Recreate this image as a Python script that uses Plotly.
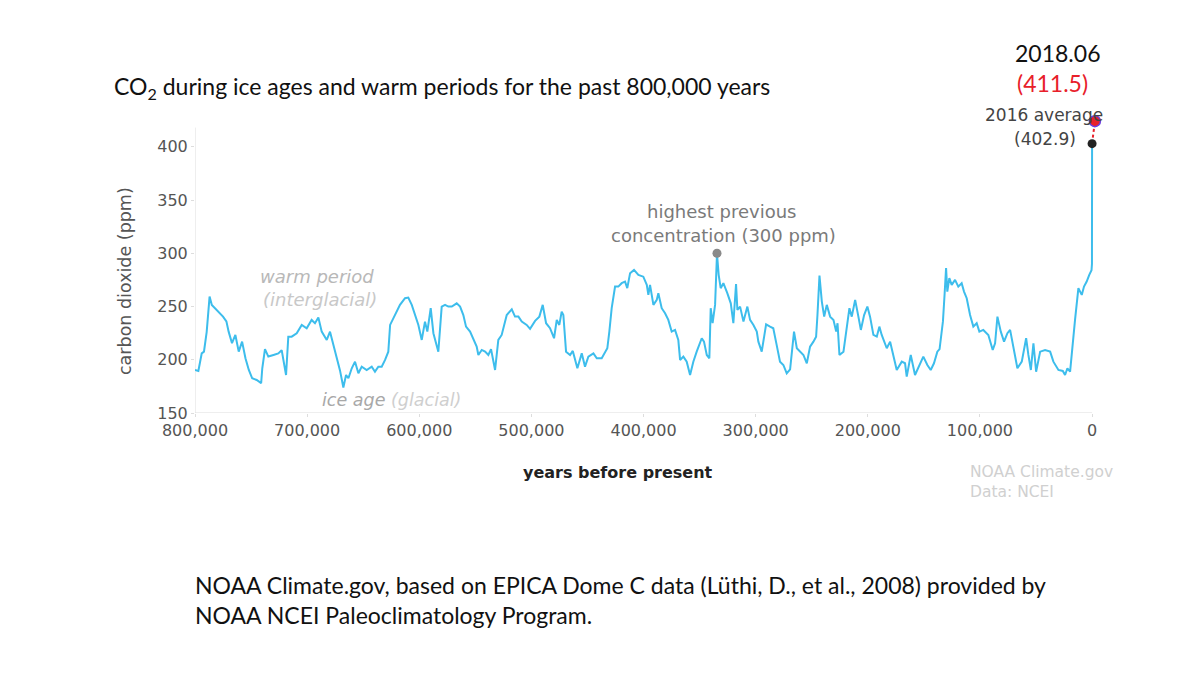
import plotly.graph_objects as go

# EPICA Dome C CO2 (thousands of years before present, ppm)
age_ka = [
    800, 797, 794, 792, 789.6, 787, 785, 782, 779, 775, 772, 770, 767, 764, 761, 758, 755, 752,
    749, 745, 741, 740, 737.6, 734.6, 730, 725.7, 722.7, 720.6, 718.8, 716.8, 713.8, 709.3,
    704.8, 700.4, 696, 693, 690, 687, 682.5, 679.6, 676.6, 673.6, 670.7, 667.7, 665.3, 663.2,
    660.2, 657.3, 654.3, 651.3, 646.9, 642.4, 639.5, 636.5, 633.5, 630.5, 627.6, 626, 621.6,
    617.2, 612.7, 609.8, 606.7, 603.8, 600.8, 597.8, 594.9, 592.8, 589.8, 587.4, 585.3, 583,
    580, 577, 574.1, 571, 566.6, 563.6, 560.7, 558.3, 554.7, 551.8, 548.8, 547.3, 544.3, 541.3,
    538.4, 536, 533.5, 532.4, 529.5, 526.5, 522, 517.5, 514.6, 511.6, 508.6, 504.2, 501.2,
    496.7, 492.9, 489.9, 486.9, 483.4, 479.8, 477.4, 475.1, 473, 471.5, 469.1, 465.5, 463.1,
    459, 455.1, 452.2, 449.2, 444.7, 441.7, 437.3, 434.3, 432.3, 430.5, 428.4, 425.4, 422.5,
    419.5, 416.5, 414.5, 412, 408.5, 404.6, 400.2, 397.1, 395.7, 394.2, 391.2, 388.2, 386.8,
    383.8, 380.8, 377.9, 374.9, 371.9, 369, 367.4, 364.5, 361.5, 358.5, 355.6, 352.6, 348.1,
    346.1, 343.6, 341.3, 340.1, 338.4, 336.2, 334.5, 333, 331.2, 328.8, 325.3, 322.2, 319.9,
    317.5, 316.3, 313.9, 310.9, 307.4, 305, 302, 299, 297.6, 294.6, 290.7, 287.2, 284.3, 281.3,
    278.3, 275.3, 272.3, 269.3, 265.8, 263.3, 260.4, 257.4, 254.4, 251.5, 248.5, 246.1, 244.9,
    243.1, 241, 238.9, 236.6, 233.6, 230.6, 228.2, 227, 225.3, 221.7, 218.7, 216.4, 214.3,
    211.3, 208.4, 206.2, 203.3, 200.4, 198, 195, 192, 189.7, 187.6, 183.1, 180.1, 177.2, 174.2,
    169.7, 166.8, 165.3, 161.7, 157.9, 154, 150.5, 146.9, 143.9, 141, 138, 136, 134, 133, 131.5,
    130.2, 129.1, 127.3, 125.2, 122.2, 119.3, 116.3, 114.2, 111.8, 108.8, 105.9, 102.9, 100.5,
    97, 92.5, 88.6, 86.5, 84.4, 81.4, 78.5, 75.5, 73.1, 70.2, 66.6, 62.7, 58.8, 56.8, 54.6,
    52.3, 49.9, 46.3, 41.9, 37.4, 34.5, 30, 26.1, 24.1, 22, 19.6, 17.2, 15.2, 12.2, 9.2, 7.2,
    4.8, 2.5, 1.2, 0.5, 0.1, 0,
]
co2_ppm = [
    190.4, 189.5, 206, 207.6, 226, 259.3, 251.5, 248.4, 245.2, 240.5, 236, 226.4, 215.5, 223.3,
    207.6, 217, 201.4, 190.4, 182.6, 181, 178, 192, 210, 203, 204.5, 206, 209, 195, 185.7, 221.7,
    221.7, 224.9, 232.7, 229.6, 237.4, 234.3, 239.6, 226.4, 218.6, 226.4, 214, 201.4, 190, 174,
    185.7, 182.6, 192, 198.2, 187.3, 193.5, 190.4, 193.5, 188.8, 193.5, 193.5, 199.8, 207.6,
    232.7, 242, 251.5, 257.8, 258.4, 251.5, 242, 232.7, 218.6, 235.8, 226.4, 248.4, 224.9,
    215.5, 207.6, 249.9, 251.5, 249.9, 249.9, 253, 249.9, 242, 231.1, 226.4, 218.6, 212.3,
    204.5, 209.2, 207.6, 204.5, 210, 196, 190.4, 218.6, 223.3, 242, 247.4, 240.5, 240.5, 235.8,
    232.7, 229, 236.5, 240.5, 251.5, 234.3, 229.6, 220.2, 237.4, 232.7, 245.2, 242, 207.6,
    204.5, 208.3, 192, 206, 193.5, 203, 206, 201.4, 201.4, 207.6, 210.8, 226.4, 248.4, 268.7,
    268.7, 271.9, 273.4, 267.2, 281.3, 284.4, 279.7, 278, 270.3, 260.9, 270.3, 251.5, 256.2,
    262.5, 248.4, 243.7, 237.4, 226.4, 228, 218.6, 199.8, 202.9, 198.2, 185.7, 198.2, 207.6,
    220.2, 217, 204.5, 201.4, 248.4, 234.3, 251.5, 299.5, 279.7, 267.2, 271.9, 262.5, 253,
    234.3, 271, 246.8, 249.9, 235.8, 249.9, 237.4, 232.7, 226.4, 217, 207.6, 233.3, 231.1,
    229.6, 214, 198.2, 195.1, 187.3, 191, 226.4, 210.8, 207.6, 204.5, 196.7, 212.3, 217, 221.7,
    242, 279, 254.6, 240.5, 251.5, 240.5, 237.4, 226.4, 234.3, 204.5, 207.6, 232.7, 248.4,
    240.5, 256.2, 240.5, 228, 242, 249.9, 240.5, 223.3, 221.7, 231.1, 223.3, 210.8, 217, 204.5,
    190.4, 198.2, 196.7, 184.1, 204.5, 185.7, 195.1, 203, 195.1, 190.4, 196.7, 207.6, 210, 228,
    236, 262, 286, 264, 276.6, 270.3, 275, 268.7, 271.9, 264, 257.8, 242, 231.1, 234.3, 226.4,
    228, 223.3, 209.2, 215.5, 240.5, 226.4, 217, 224.9, 228, 210.8, 192, 198.2, 220.2, 204.5,
    190.4, 215.5, 188.8, 207.6, 209.2, 207.6, 198.2, 190.4, 189.5, 185.7, 192, 188.8, 217,
    237.4, 267.2, 260.9, 268.7, 273.4, 279.7, 284, 284, 290, 402.9,
]

years_bp = [a * 1000 for a in age_ka]

# highlighted points
peak_year, peak_ppm = 334500, 300
avg2016_year, avg2016_ppm = 0, 402.9
june2018_year, june2018_ppm = -2500, 424

line_blue = "#3dbdec"
label_grey = "#555555"
axis_grey = "#dddddd"


# place texts by screen pixel (plot area spans 195..1096 x 118..413)
def px(x):
    return (x - 195) / 901


def py(y):
    return (413 - y) / 295


fig = go.Figure()

fig.add_trace(go.Scatter(
    x=years_bp, y=co2_ppm, mode="lines",
    line=dict(color=line_blue, width=2), showlegend=False, hoverinfo="skip",
))

# dashed red link from the 2016 average to the June 2018 value
fig.add_trace(go.Scatter(
    x=[avg2016_year, june2018_year], y=[avg2016_ppm, june2018_ppm], mode="lines",
    line=dict(color="#e8202a", width=2, dash="dot"), showlegend=False,
))
fig.add_trace(go.Scatter(
    x=[peak_year], y=[peak_ppm], mode="markers",
    marker=dict(color="#8a8a8a", size=9), showlegend=False,
))
fig.add_trace(go.Scatter(
    x=[avg2016_year], y=[avg2016_ppm], mode="markers",
    marker=dict(color="#222222", size=9), showlegend=False, cliponaxis=False,
))
fig.add_trace(go.Scatter(
    x=[june2018_year], y=[june2018_ppm], mode="markers",
    marker=dict(color="#e8202a", size=11, line=dict(color="#6a3de0", width=1.5)),
    showlegend=False, cliponaxis=False,
))

tick_font = dict(family="DejaVu Sans", size=16, color=label_grey)

fig.update_xaxes(
    range=[800000, -3500], tickvals=[800000, 700000, 600000, 500000, 400000, 300000, 200000, 100000, 0],
    tickformat=",d", tickfont=tick_font, showgrid=False, zeroline=False, showline=False,
    ticks="outside", ticklen=3, tickcolor=axis_grey,
)
fig.update_yaxes(
    range=[150, 427], tickvals=[150, 200, 250, 300, 350, 400],
    tickfont=tick_font, showgrid=False, zeroline=False, showline=False,
    ticks="outside", ticklen=3, tickcolor=axis_grey,
)

# axis lines stop at the chart's own extent
fig.add_shape(type="line", xref="x", yref="y", x0=800000, x1=800000, y0=150, y1=418,
              line=dict(color=axis_grey, width=1), layer="below")
fig.add_shape(type="line", xref="x", yref="y", x0=800000, x1=0, y0=150, y1=150,
              line=dict(color=axis_grey, width=1), layer="below")

notes = [
    # text, screen x, screen y, xanchor, font
    ("CO<sub>2</sub> during ice ages and warm periods for the past 800,000 years", 112, 87, "left",
     dict(family="Lato", size=23, color="#111111")),
    ("2018.06", 1057, 53, "center", dict(family="Lato", size=23, color="#111111")),
    ("(411.5)", 1052, 83, "center", dict(family="Lato", size=23, color="#e8202a")),
    ("2016 average", 1105, 115, "right", dict(family="DejaVu Sans", size=17, color="#444444")),
    ("(402.9)", 1078, 139, "right", dict(family="DejaVu Sans", size=17, color="#444444")),
    ("highest previous", 721, 211, "center", dict(family="DejaVu Sans", size=18, color="#7a7a7a")),
    ("concentration (300 ppm)", 723, 235, "center", dict(family="DejaVu Sans", size=18, color="#7a7a7a")),
    ("<i>warm period</i>", 317, 276, "center", dict(family="DejaVu Sans", size=18, color="#b8b8b8")),
    ("<i>(interglacial)</i>", 320, 299, "center", dict(family="DejaVu Sans", size=18, color="#c8c8c8")),
    ("<i>ice age <span style='color:#cfcfcf'>(glacial)</span></i>", 391, 400, "center",
     dict(family="DejaVu Sans", size=17.5, color="#a8a8a8")),
    ("<b>years before present</b>", 618, 472, "center", dict(family="DejaVu Sans", size=16, color="#222222")),
    ("NOAA Climate.gov", 968, 472, "left", dict(family="DejaVu Sans", size=15.5, color="#d0d0d0")),
    ("Data: NCEI", 968, 492, "left", dict(family="DejaVu Sans", size=15.5, color="#d0d0d0")),
    ("NOAA Climate.gov, based on EPICA Dome C data (Lüthi, D., et al., 2008) provided by", 193, 585, "left",
     dict(family="Lato", size=23, color="#111111")),
    ("NOAA NCEI Paleoclimatology Program.", 193, 615, "left",
     dict(family="Lato", size=23, color="#111111")),
]
for text, x, y, xa, font in notes:
    fig.add_annotation(text=text, x=px(x), y=py(y), xref="paper", yref="paper",
                       xanchor=xa, yanchor="middle", showarrow=False, font=font)

fig.add_annotation(text="carbon dioxide (ppm)", x=px(125), y=py(281), xref="paper", yref="paper",
                   textangle=-90, showarrow=False, xanchor="center", yanchor="middle",
                   font=dict(family="DejaVu Sans", size=17.5, color=label_grey))

# the page body adds an 8px offset, so margins are shifted to land on the reference
fig.update_layout(
    width=1200, height=674,
    margin=dict(l=187, r=112, t=110, b=269),
    paper_bgcolor="white", plot_bgcolor="white",
    showlegend=False,
)

fig.write_html("out.html")
